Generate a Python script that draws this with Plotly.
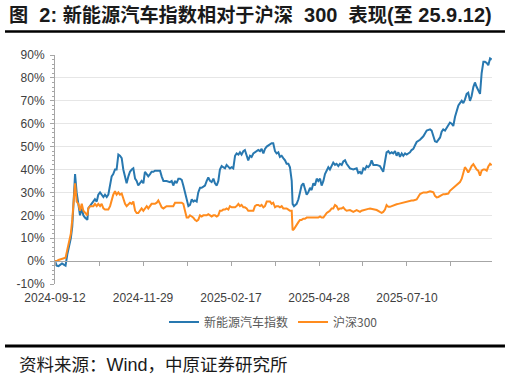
import plotly.graph_objects as go

# trading-day index from 2024-09-12
day = [0, 1, 2, 3, 4, 5, 6, 7, 8, 9, 9.8, 10.8, 11.4, 12.3, 13.3, 14.2, 15.2, 16.1, 17, 18.4,
       18.9, 19.9, 20.8, 21.8, 22.7, 23.7, 24.6, 25.6, 26.5, 27.5, 28.4, 29.4, 30.3, 31.3, 32.2,
       33.1, 34.1, 35, 36, 36.9, 37.9, 38.8, 39.8, 40.7, 41.7, 42.6, 43.6, 44.5, 45.5, 46.4, 47.3,
       48.3, 49.2, 50.2, 51.1, 52.1, 53, 54, 54.9, 55.9, 56.8, 57.8, 58.7, 59.7, 60.6, 61.6, 62.5,
       63.4, 65.3, 66.3, 67.2, 68.2, 69.1, 70.1, 71, 72, 72.9, 73.9, 74.8, 75.8, 76.7, 77.7, 78.6,
       79.5, 80.5, 81.4, 82.4,
       83.3, 84.3, 85.2, 86.2, 87.1, 88.1, 89, 90, 90.9, 91.9, 92.8, 93.7, 94.7, 95.6, 96.6, 97.5,
       98.5, 99.4, 100.4, 101.3, 102.3, 103.2, 104.2, 105.1, 106, 107, 107.9, 108.9, 109.8, 110.8,
       111.7, 112.7, 113.6, 114.6, 115.5, 116.5, 117.4, 118.4, 119.3, 120.3, 121.2, 122.2, 123.1,
       124, 125, 125.9, 126.9, 127.8, 128.8, 129.7, 130.7, 131.6, 132.6, 133.5, 134.5, 135, 135.8,
       137.3, 138.3, 139.2, 140.1, 141.1, 142, 143, 143.9, 144.9, 145.8, 146.8, 147.7, 148.7, 149.6,
       150.6, 151.5, 152.5, 153.4, 154.4, 155.3, 156.2, 157.2, 158.1, 159.1, 160, 161, 161.9, 162.9,
       163.8, 164.8, 165.7,
       167.6, 169.5, 171.4, 172.3, 173.3, 174.2, 175.2, 176.1, 177.1, 178, 179, 179.9, 180.9, 182.8,
       184.6, 185.6, 186.5, 187.5, 188.4, 189.4, 190.3, 191.3, 192.2, 193.2, 194.1, 195.1, 196, 197,
       197.9, 198.9, 199.8, 200.7, 201.7, 202.6, 203.6, 204.5, 205.5,
       207.4, 209.3, 211.2, 213.1, 214.0, 215, 215.9, 216.9, 217.8, 218.8, 219.7, 220.6, 221.6,
       222.5, 223.5, 224.4, 225.4, 226.3, 227.3, 228.2, 229.2, 230.1, 231.1, 232, 232.9, 233.9,
       234.8, 235.8, 236.7, 237.7, 238.6, 239.6, 240.5, 241.5, 242.4, 243.4, 244.3, 245.3, 246.2,
       247.2, 248.1]

nev = [0, -2, -2.2, -1.5, -1, -1.5, -2, 3, 6, 10, 15, 30, 38, 30, 25, 20, 23, 20, 19, 18,
       23, 24, 25, 26, 27, 26, 29, 30, 29, 28, 29, 28, 29, 34, 37,
       38, 40, 40, 46.5, 46, 45, 40, 37, 34, 37, 39, 40, 40.5, 36, 35, 33,
       34, 35, 34, 39, 38, 37, 38, 39, 39, 39.5, 39.5, 39.5, 39.5, 37, 35, 35,
       35, 34.5, 35, 33, 35, 34, 36, 36, 35.5, 33, 30, 26, 24, 24.5, 27, 26,
       26.5, 26, 30, 32,
       32, 32.5, 33, 35, 36.5, 35, 34.5, 36, 34, 33, 35, 40, 41.5, 41, 40.5, 42,
       41, 40.5, 41, 40.5, 46, 47, 46.5, 47.5, 46.5, 48, 48.5, 46, 44, 46,
       45.5, 47, 47.5, 48, 48.5, 48, 49, 47, 49, 50, 50.5, 51, 51.5,
       51.5, 48, 47, 47.5, 45.5, 46, 45, 44, 42.5, 42.5, 41, 35, 25, 24,
       25, 27, 30, 33, 34, 31, 29, 30, 32, 31, 34, 33, 36, 35,
       36, 33, 35, 38, 40, 41, 40, 42, 43, 42, 42.5, 41.5, 42.5, 42,
       43.5, 44, 42.5,
       40.5, 40, 40.5, 38.5, 39, 38, 40.5, 40, 41.5, 41, 42, 44, 42, 42,
       41.5, 40, 39, 43.5, 47.5, 48, 47, 47.5, 47, 48, 46, 47.5, 45.5, 47,
       46, 47, 46.5, 47, 47.5, 48.5, 49, 50.5, 52,
       53, 54.5, 57, 57.5, 57, 55, 52.3, 52, 53, 54, 56.5, 57.5, 57,
       58, 59, 60.5, 60, 59, 63, 65.5, 68, 69, 70, 69, 70.5, 73,
       73.5, 70, 72, 76, 78, 76, 74.5, 73, 82, 87, 87, 86.5, 85.5,
       88.5, 88]

hs300 = [0, 0, 0.5, 0.8, 1, 1.2, 1.5, 5, 8, 12, 18, 30, 34, 26, 25, 22, 25, 22, 21, 20,
         23, 24, 24, 24, 25, 24, 25, 24, 25, 23, 22.5, 22.5, 22.5, 24, 27,
         29, 30.5, 29, 30, 29, 29.5, 27, 25, 24, 25, 25.5, 25, 26, 22, 21, 21,
         22, 23, 22, 23, 24, 23, 24, 25, 25, 25, 25.5, 26.5, 25, 23.5, 23, 23.5,
         24, 24, 24, 24, 25.5, 25.5, 25.5, 25.5, 25.5, 25, 21, 19, 19, 20, 19.5, 19,
         18, 17.5, 18, 20,
         19.5, 20, 20, 20, 20.5, 20, 19.5, 20, 20, 19.5, 20, 22, 22, 22.5, 22.5, 23,
         22.5, 24, 23.5, 23.5, 23.5, 24, 25, 24, 24.5, 23.5, 23.5, 23, 22, 22,
         22, 22, 24, 24.5, 24.5, 24, 24.5, 23.5, 24, 26, 26, 26, 25,
         25.5, 23.5, 24, 24, 23.5, 24, 23, 23, 23, 22.5, 22, 22, 13.5, 14,
         15.5, 17, 18, 18, 18.5, 18.5, 19, 19, 19, 19, 19, 19, 19, 19,
         19.5, 19, 19, 20, 21, 21.5, 22, 23, 23, 24.5, 24, 22.5, 23, 23,
         23.5, 22.5, 22,
         22.3, 21.5, 22.3, 22, 21.5, 22, 22.3, 22.5, 22.6, 22.8, 23, 22.8, 22.6, 22.3,
         21.5, 21.1, 21.5, 22.5, 24.5, 23.7, 23.7, 24, 24.5, 24.5, 24.8, 25, 25.2, 25.2,
         25.5, 25.7, 25.9, 26, 26.3, 26.5, 26.5, 26.7, 26.9,
         29.3, 30, 30, 30.5, 30.3, 30, 28.5, 27.8, 28, 28.5, 29, 29.2, 29.2,
         29.2, 29.5, 30.7, 31.3, 32, 32.5, 33, 33.8, 34.5, 36, 38, 41, 40,
         38.7, 40, 41.5, 42.3, 41, 40, 39.5, 37.3, 39.5, 40, 40, 39.5, 41.3,
         42.5, 41.8]

tick_days = [0, 50, 100, 150, 200]
tick_labels = ["2024-09-12", "2024-11-29", "2025-02-17", "2025-04-28", "2025-07-10"]
minor_days = [0, 25, 50, 75, 100, 125, 150, 175, 200, 225]
y_ticks = [-10, 0, 10, 20, 30, 40, 50, 60, 70, 80, 90]

BLUE = "#2878b0"
ORANGE = "#ff8c1e"
XR = [0, 248.3]

fig = go.Figure()
fig.add_trace(go.Scatter(x=day, y=nev, mode="lines", name="新能源汽车指数",
                         line=dict(color=BLUE, width=2)))
fig.add_trace(go.Scatter(x=day, y=hs300, mode="lines", name="沪深300",
                         line=dict(color=ORANGE, width=2)))
# helper trace so the zero-line axis is drawn
fig.add_trace(go.Scatter(x=[day[0]], y=[hs300[0]], xaxis="x2", mode="lines",
                         showlegend=False, hoverinfo="skip", opacity=0))

tickfont = dict(family="Liberation Sans, Arial, sans-serif", size=12, color="#404040")

L = '<span style="font-size:20px">'
E = '</span>'
title_text = ("<b>图" + L + "  2: " + E + "新能源汽车指数相对于沪深" + L + "  300  " + E
              + "表现" + L + "(" + E + "至" + L + " 25.9.12)" + E + "</b>")
foot_text = '资料来源：<span style="font-size:18px">Wind</span>，中原证券研究所'

fig.update_layout(
    width=511, height=378,
    margin=dict(l=55, r=19, t=55, b=94),
    paper_bgcolor="white", plot_bgcolor="white",
    showlegend=True,
    legend=dict(orientation="h", x=0.5, xanchor="center", y=-0.166, yanchor="middle",
                font=dict(family="Noto Sans CJK SC", size=12, color="#595959"),
                itemwidth=30, tracegroupgap=0),
    xaxis=dict(range=XR, tickmode="array", tickvals=tick_days, ticktext=tick_labels,
               showgrid=False, zeroline=False, showline=False, ticks="",
               tickfont=tickfont, ticklabelstandoff=5),
    xaxis2=dict(range=XR, overlaying="x", anchor="free", position=0.1,
                tickmode="array", tickvals=minor_days, showticklabels=False,
                ticks="outside", ticklen=4, tickcolor="#a6a6a6",
                showline=True, linecolor="#a6a6a6", linewidth=1,
                showgrid=False, zeroline=False),
    yaxis=dict(range=[-10, 90], tickmode="array", tickvals=y_ticks,
               ticktext=[f"{v}%" for v in y_ticks],
               showgrid=True, gridcolor="#e6e6e6", gridwidth=1, zeroline=False,
               showline=True, linecolor="#a6a6a6", linewidth=1,
               ticks="outside", ticklen=4, tickcolor="#a6a6a6",
               minor=dict(dtick=2, tick0=0, ticks="outside", ticklen=2,
                          tickcolor="#a6a6a6", showgrid=False),
               tickfont=tickfont, ticklabelstandoff=3),
    annotations=[
        dict(text=title_text,
             xref="paper", yref="paper", x=-0.11, y=1.1747, xanchor="left", yanchor="middle",
             showarrow=False,
             font=dict(family="Liberation Sans, Noto Sans CJK SC", size=19.2, color="#1a1a1a")),
        dict(text=foot_text,
             xref="paper", yref="paper", x=-0.087, y=-0.3537, xanchor="left", yanchor="middle",
             showarrow=False,
             font=dict(family="Liberation Sans, Noto Sans CJK SC", size=17.5, color="#1a1a1a")),
    ],
    shapes=[
        dict(type="line", xref="paper", yref="paper", x0=-0.1144, x1=1.0297, y0=1.1026, y1=1.1026,
             line=dict(color="black", width=2.5)),
        dict(type="line", xref="paper", yref="paper", x0=-0.1144, x1=1.0297, y0=-0.2707, y1=-0.2707,
             line=dict(color="black", width=3)),
    ],
)

fig.write_html("out.html", config={"displayModeBar": False},
               post_script="document.body.style.margin='0';document.body.style.padding='0';")
